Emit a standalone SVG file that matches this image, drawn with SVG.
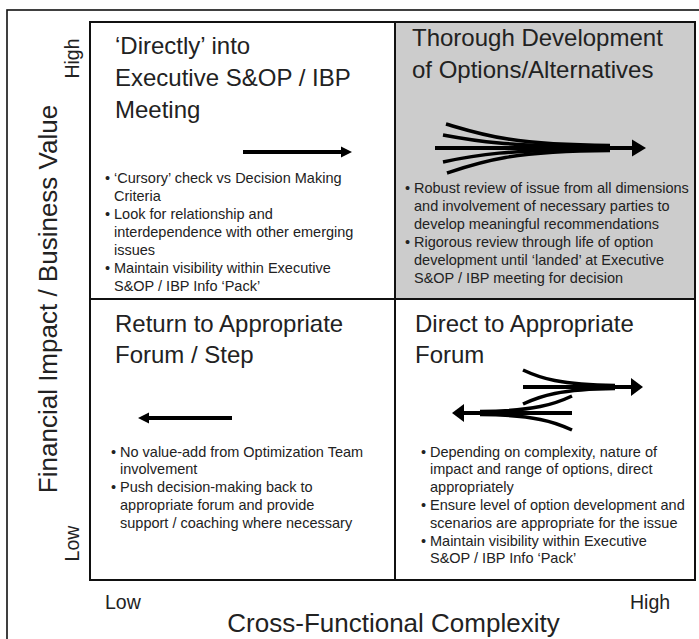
<svg xmlns="http://www.w3.org/2000/svg" width="699" height="639" viewBox="0 0 699 639">
  <style>
    text { font-family: "Liberation Sans", Arial, Helvetica, sans-serif; fill: #222; }
    .axis { font-size: 26px; }
    .tick { font-size: 19.5px; }
    .title { font-size: 24px; }
    .body { font-size: 14.5px; }
    .frame { fill: none; stroke: #111; stroke-width: 1.6; }
    .cell { fill: #fff; stroke: #111; stroke-width: 2; }
    .cell.hot { fill: #cccccc; }
    .shaft { fill: none; stroke: #000; stroke-width: 4; stroke-linecap: butt; }
    .strand { fill: none; stroke: #000; stroke-width: 3.5; stroke-linecap: butt; }
    .head { fill: #000; }
  </style>

  <!-- outer frame (runs off the right and bottom edges) -->
  <rect class="frame" x="7" y="10" width="700" height="640"/>

  <!-- axes -->
  <g id="axis-y">
    <text class="axis" transform="translate(57,299) rotate(-90)" text-anchor="middle">Financial Impact / Business Value</text>
    <text class="tick" transform="translate(79,58.5) rotate(-90)" text-anchor="middle">High</text>
    <text class="tick" transform="translate(79,543.5) rotate(-90)" text-anchor="middle">Low</text>
  </g>
  <g id="axis-x">
    <text class="tick" x="105" y="609">Low</text>
    <text class="tick" x="630" y="609">High</text>
    <text class="axis" x="393.5" y="632" text-anchor="middle">Cross-Functional Complexity</text>
  </g>

  <!-- quadrant: high value, low complexity -->
  <g id="q-top-left">
    <rect class="cell" x="90" y="22" width="305" height="277"/>
    <text class="title" x="115" y="54">‘Directly’ into</text>
    <text class="title" x="115" y="86">Executive S&amp;OP / IBP</text>
    <text class="title" x="115" y="118">Meeting</text>
    <text class="body" x="105" y="183">•</text>
    <text class="body" x="114" y="183">‘Cursory’ check vs Decision Making</text>
    <text class="body" x="114" y="201">Criteria</text>
    <text class="body" x="105" y="219">•</text>
    <text class="body" x="114" y="219">Look for relationship and</text>
    <text class="body" x="114" y="237">interdependence with other emerging</text>
    <text class="body" x="114" y="255">issues</text>
    <text class="body" x="105" y="273">•</text>
    <text class="body" x="114" y="273">Maintain visibility within Executive</text>
    <text class="body" x="114" y="291">S&amp;OP / IBP Info ‘Pack’</text>
  </g>

  <!-- quadrant: high value, high complexity -->
  <g id="q-top-right">
    <rect class="cell hot" x="395" y="22" width="300" height="277"/>
    <text class="title" x="412" y="46">Thorough Development</text>
    <text class="title" x="412" y="78">of Options/Alternatives</text>
    <text class="body" x="405" y="193">•</text>
    <text class="body" x="414" y="193">Robust review of issue from all dimensions</text>
    <text class="body" x="414" y="211">and involvement of necessary parties to</text>
    <text class="body" x="414" y="229">develop meaningful recommendations</text>
    <text class="body" x="405" y="247">•</text>
    <text class="body" x="414" y="247">Rigorous review through life of option</text>
    <text class="body" x="414" y="265">development until ‘landed’ at Executive</text>
    <text class="body" x="414" y="283">S&amp;OP / IBP meeting for decision</text>
  </g>

  <!-- quadrant: low value, low complexity -->
  <g id="q-bottom-left">
    <rect class="cell" x="90" y="299" width="305" height="281"/>
    <text class="title" x="115" y="332">Return to Appropriate</text>
    <text class="title" x="115" y="363">Forum / Step</text>
    <text class="body" x="111" y="457">•</text>
    <text class="body" x="120" y="457">No value-add from Optimization Team</text>
    <text class="body" x="120" y="474">involvement</text>
    <text class="body" x="111" y="492">•</text>
    <text class="body" x="120" y="492">Push decision-making back to</text>
    <text class="body" x="120" y="510">appropriate forum and provide</text>
    <text class="body" x="120" y="528">support / coaching where necessary</text>
  </g>

  <!-- quadrant: low value, high complexity -->
  <g id="q-bottom-right">
    <rect class="cell" x="395" y="299" width="300" height="281"/>
    <text class="title" x="415" y="332">Direct to Appropriate</text>
    <text class="title" x="415" y="363">Forum</text>
    <text class="body" x="421" y="457">•</text>
    <text class="body" x="430" y="457">Depending on complexity, nature of</text>
    <text class="body" x="430" y="474">impact and range of options, direct</text>
    <text class="body" x="430" y="492">appropriately</text>
    <text class="body" x="421" y="510">•</text>
    <text class="body" x="430" y="510">Ensure level of option development and</text>
    <text class="body" x="430" y="528">scenarios are appropriate for the issue</text>
    <text class="body" x="421" y="546">•</text>
    <text class="body" x="430" y="546">Maintain visibility within Executive</text>
    <text class="body" x="430" y="563">S&amp;OP / IBP Info ‘Pack’</text>
  </g>

  <!-- arrows -->
  <g id="connectors">
    <!-- straight to the right -->
    <line class="shaft" x1="243" y1="152" x2="343" y2="152" stroke-width="3.5"/>
    <polygon class="head" points="341,146.5 352,152 341,157.5"/>

    <!-- straight back to the left -->
    <line class="shaft" x1="232" y1="418" x2="148" y2="418" stroke-width="3.5"/>
    <polygon class="head" points="149,412.5 138,418 149,423.5"/>

    <!-- four strands merging into one -->
    <line class="shaft" x1="435" y1="148" x2="636" y2="148"/>
    <path class="strand" d="M446 124 C480 134 510 145 610 145.5"/>
    <path class="strand" d="M443 135 C475 141 505 146.5 610 146.5"/>
    <path class="strand" d="M443 162 C475 155 505 149.5 610 149.5"/>
    <path class="strand" d="M447 173 C480 162 510 151 610 150.5"/>
    <polygon class="head" points="632,139.5 646,148 632,156.5"/>

    <!-- split: one branch right, one branch left -->
    <line class="shaft" x1="523" y1="387" x2="634" y2="387"/>
    <path class="strand" d="M523 370 C540 378 560 385 615 385.5"/>
    <path class="strand" d="M523 404 C540 396 560 389 615 388.5"/>
    <polygon class="head" points="631,378 643,387 631,396"/>

    <line class="shaft" x1="572" y1="413" x2="462" y2="413"/>
    <path class="strand" d="M572 396 C555 404 535 411 480 411.5"/>
    <path class="strand" d="M572 430 C555 422 535 415 480 414.5"/>
    <polygon class="head" points="464,404 452,413 464,422"/>
  </g>
</svg>
